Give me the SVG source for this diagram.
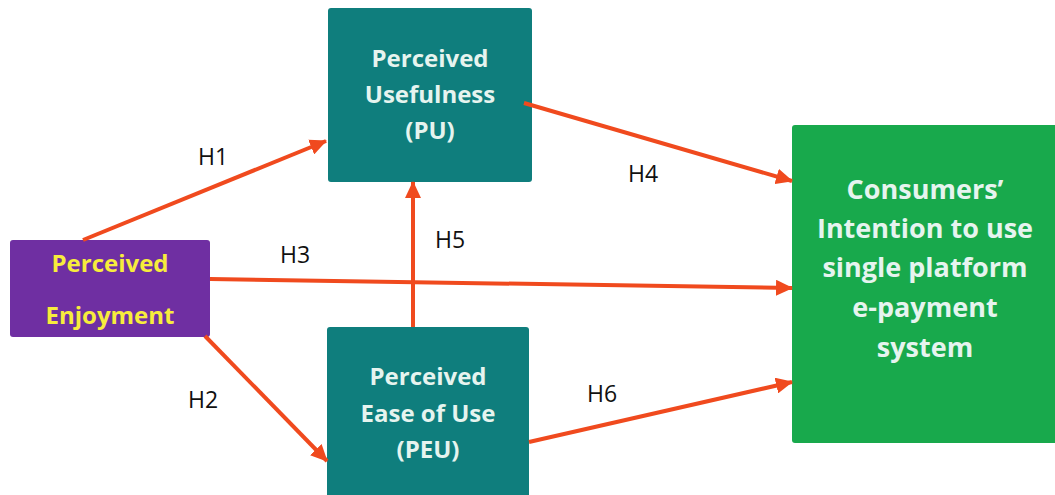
<svg xmlns="http://www.w3.org/2000/svg" width="1055" height="495" viewBox="0 0 1055 495">
<style>
.box-t{font-family:"Open Sans","Noto Sans",sans-serif;font-weight:bold;text-anchor:middle}
.lt{fill:#E6F4EF}
.pe{fill:#F7EC3C}
.h{font-family:"Open Sans","Noto Sans",sans-serif;font-size:23px;fill:#111}
.teal{fill:#0F7E7D}
.arr{stroke:#F04A1E;stroke-width:4;fill:none;marker-end:url(#ah)}
</style>
<defs>
<marker id="ah" markerUnits="userSpaceOnUse" markerWidth="18" markerHeight="16" refX="16" refY="8" orient="auto">
<path d="M0,0 L17,8 L0,16 Z" fill="#F04A1E"/>
</marker>
</defs>
<rect width="1055" height="495" fill="#fff"/>
<g id="node-pu">
<rect x="328" y="8" width="204" height="174" rx="3" class="teal"/>
<text class="box-t lt" font-size="24"><tspan x="430" y="67">Perceived</tspan><tspan x="430" y="103">Usefulness</tspan><tspan x="430" y="139">(PU)</tspan></text>
</g>
<g id="node-pe">
<rect x="10" y="240" width="200" height="97" rx="3" fill="#6F2FA2"/>
<text class="box-t pe" font-size="24"><tspan x="110" y="272">Perceived</tspan><tspan x="110" y="324">Enjoyment</tspan></text>
</g>
<g id="node-peu">
<rect x="327" y="327" width="202" height="175" rx="3" class="teal"/>
<text class="box-t lt" font-size="24"><tspan x="428" y="385">Perceived</tspan><tspan x="428" y="422">Ease of Use</tspan><tspan x="428" y="458">(PEU)</tspan></text>
</g>
<g id="node-ci">
<rect x="792" y="125" width="270" height="318" rx="3" fill="#18A94C"/>
<text class="box-t lt" font-size="27"><tspan x="925" y="199">Consumers’</tspan><tspan x="925" y="238">Intention to use</tspan><tspan x="925" y="277">single platform</tspan><tspan x="925" y="317">e-payment</tspan><tspan x="925" y="357">system</tspan></text>
</g>
<g id="connectors">
<line class="arr" x1="83" y1="240" x2="326" y2="141"/>
<line class="arr" x1="205" y1="336" x2="327" y2="461"/>
<line class="arr" x1="210" y1="279" x2="792" y2="288"/>
<line class="arr" x1="524" y1="103" x2="792" y2="181"/>
<line class="arr" x1="413" y1="327" x2="413" y2="182"/>
<line class="arr" x1="529" y1="442" x2="792" y2="382"/>
</g>
<g id="labels">
<text class="h" x="198" y="165">H1</text>
<text class="h" x="188" y="408">H2</text>
<text class="h" x="280" y="263">H3</text>
<text class="h" x="628" y="182">H4</text>
<text class="h" x="435" y="248">H5</text>
<text class="h" x="587" y="402">H6</text>
</g>
</svg>
